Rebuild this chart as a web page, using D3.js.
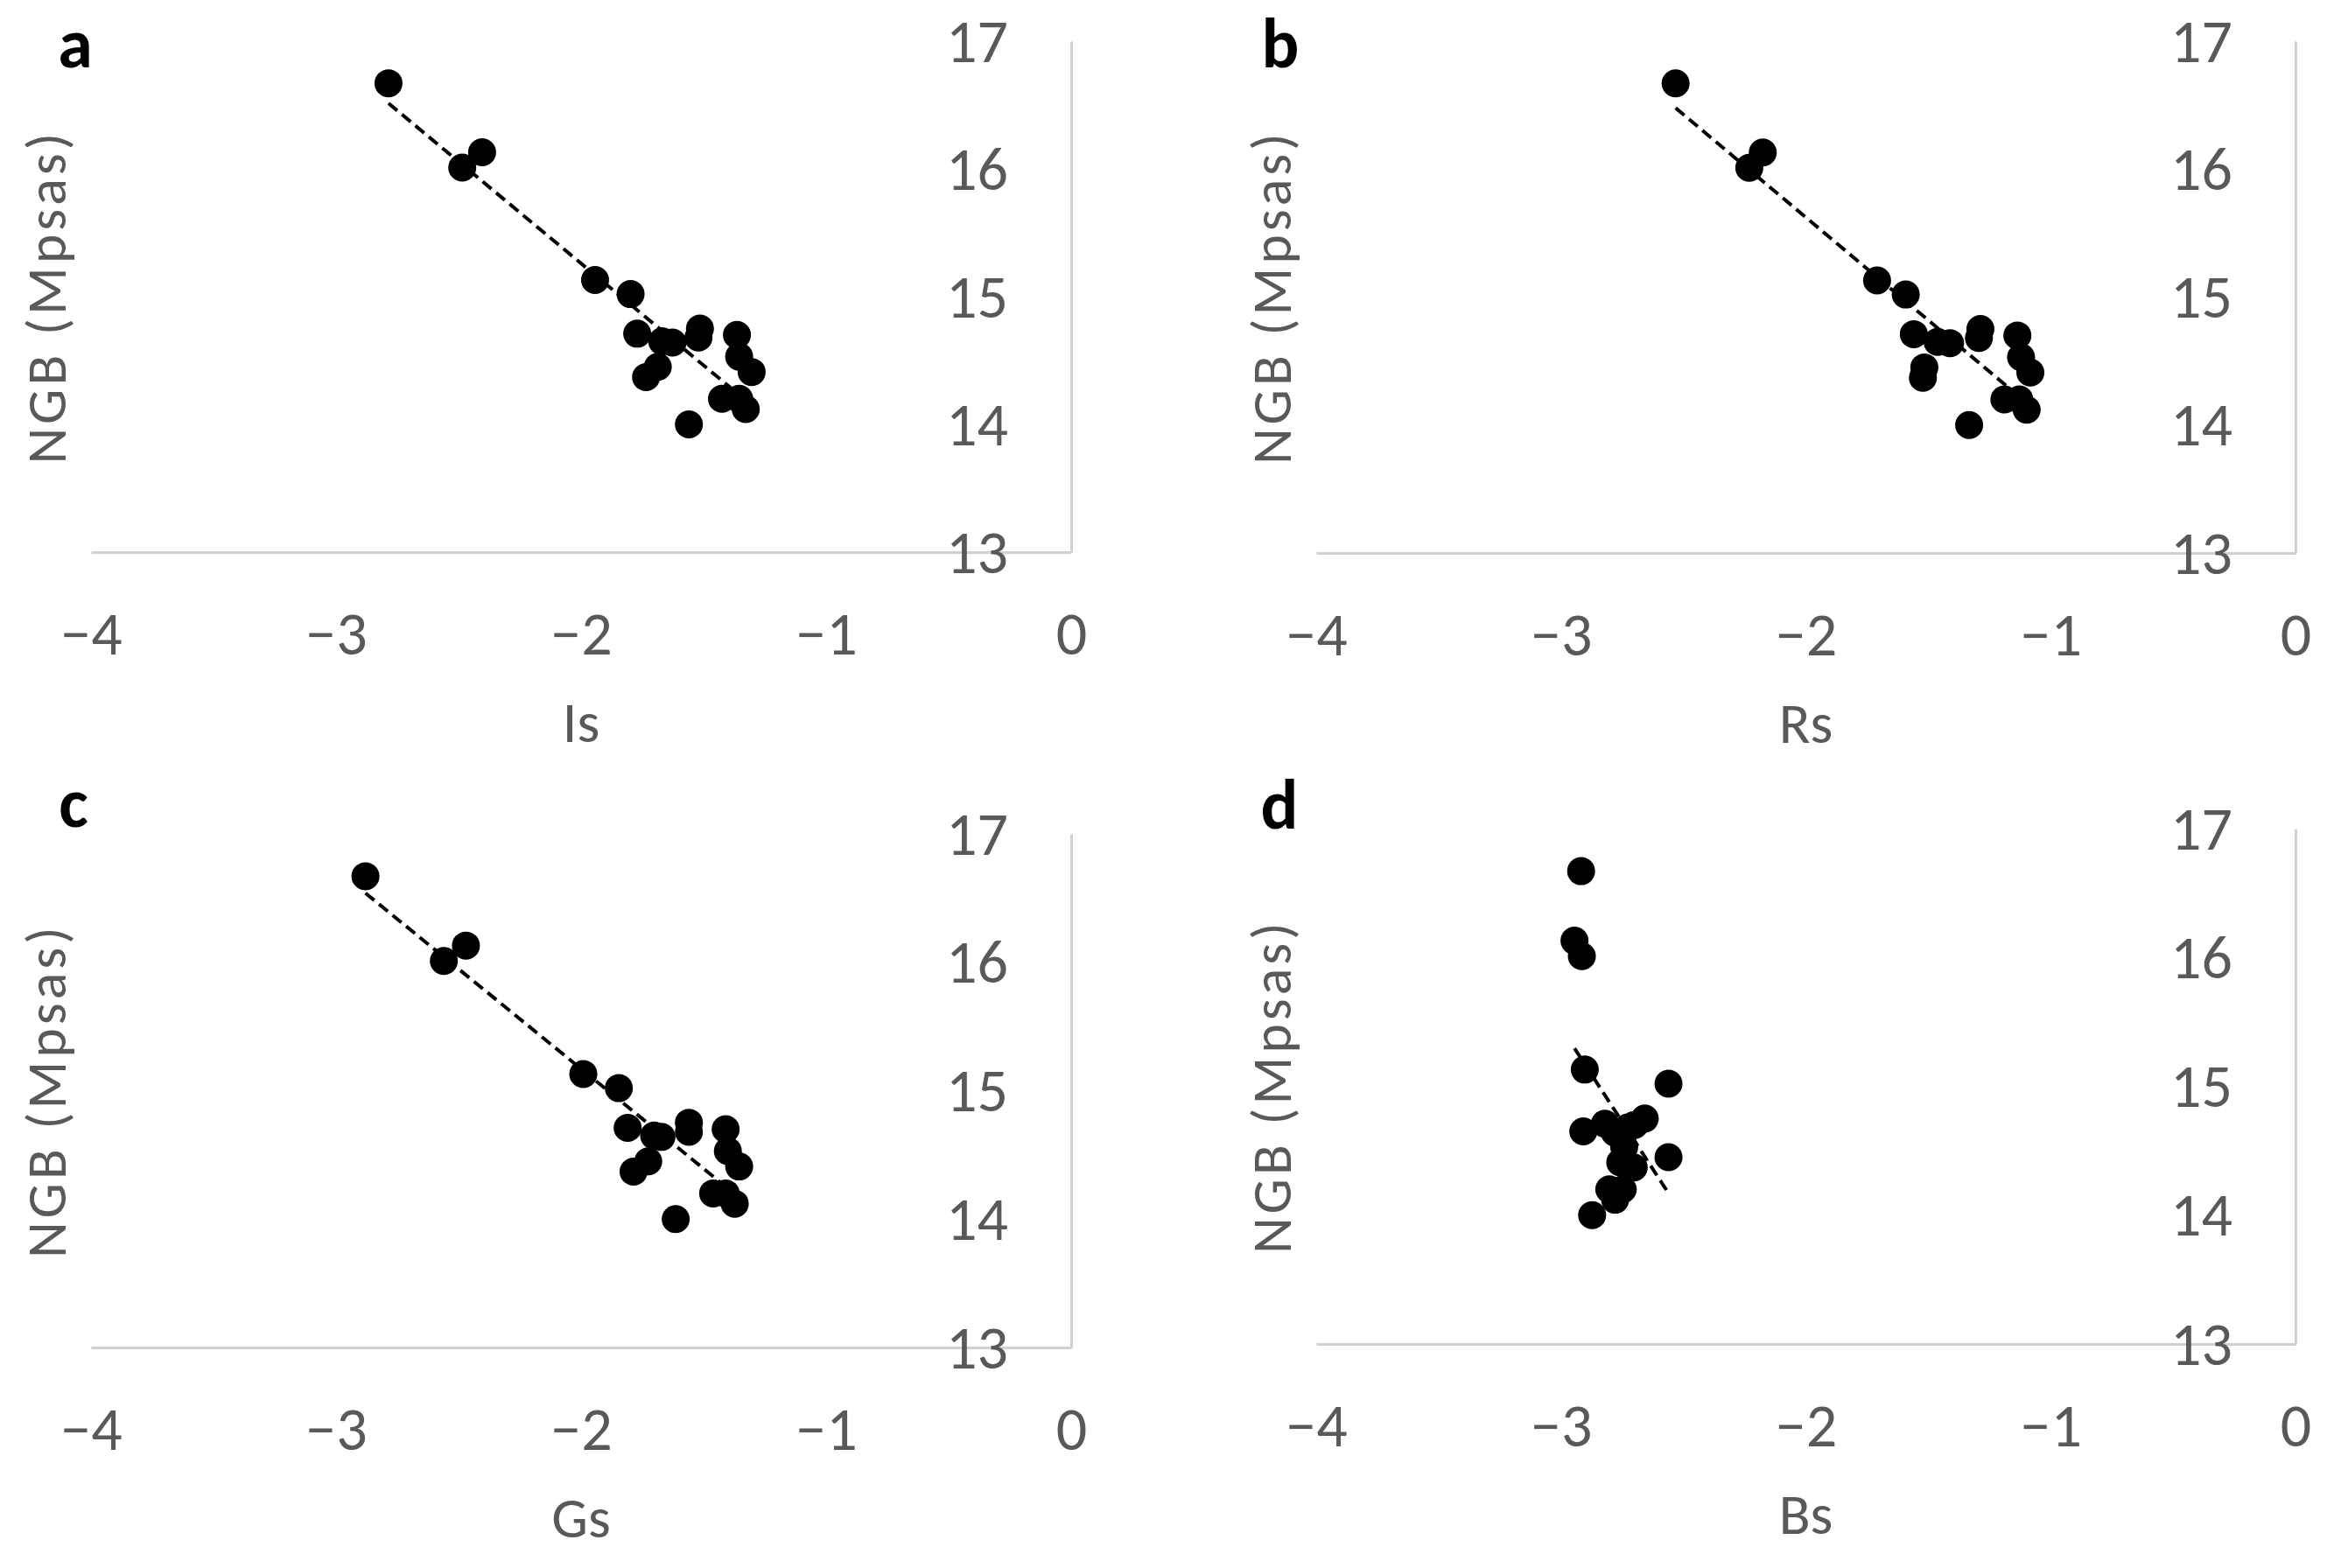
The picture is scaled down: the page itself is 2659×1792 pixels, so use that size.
<!DOCTYPE html>
<html>

<head>
  <meta charset="utf-8">
  <title>NGB scatter</title>
  <script src="https://cdn.jsdelivr.net/npm/d3@7"></script>
  <style>
    body { margin: 0; background: #fff; }
    text { font-family: Carlito, 'Liberation Sans', Arial, sans-serif; }
  </style>
</head>

<body>
  <svg width="2659" height="1792" id="mainsvg"></svg>
  <script>
    // night sky brightness, same sites in every panel
    const ngb = [16.67, 16.13, 16.01, 15.13, 15.02, 14.71, 14.65, 14.64, 14.75, 14.68,
      14.45, 14.37, 14.70, 14.53, 14.41, 14.20, 14.20, 14.12, 14.00];
    const isVals = [-2.786, -2.404, -2.485, -1.943, -1.798, -1.771, -1.669, -1.627, -1.515, -1.521,
      -1.687, -1.735, -1.364, -1.355, -1.304, -1.425, -1.355, -1.328, -1.560];
    const rsVals = [-2.532, -2.176, -2.231, -1.709, -1.592, -1.559, -1.462, -1.411, -1.287, -1.293,
      -1.516, -1.522, -1.136, -1.121, -1.083, -1.189, -1.128, -1.098, -1.333];
    const gsVals = [-2.880, -2.470, -2.560, -1.991, -1.846, -1.810, -1.702, -1.672, -1.560, -1.560,
      -1.726, -1.786, -1.410, -1.401, -1.355, -1.461, -1.410, -1.373, -1.614];
    const bsVals = [-2.918, -2.945, -2.915, -2.903, -2.561, -2.821, -2.909, -2.780, -2.658, -2.727,
      -2.561, -2.703, -2.700, -2.742, -2.758, -2.803, -2.748, -2.779, -2.873];

    const xTicks = [-4, -3, -2, -1, 0];
    const yTicks = [13, 14, 15, 16, 17];
    const yTitle = 'NGB (Mpsas)';

    const svg = d3.select('#mainsvg');

    // each panel: its frame on the page and where its letter sits
    const panels = [
      { letter: 'a', title: 'Is', xs: isVals, left: 104, right: 1224, top: 47, bottom: 631, lx: 86, ly: 77 },
      { letter: 'b', title: 'Rs', xs: rsVals, left: 1504, right: 2623, top: 47, bottom: 632, lx: 1463, ly: 77 },
      { letter: 'c', title: 'Gs', xs: gsVals, left: 104, right: 1224, top: 953, bottom: 1540, lx: 84, ly: 945 },
      { letter: 'd', title: 'Bs', xs: bsVals, left: 1504, right: 2623, top: 947, bottom: 1536, lx: 1462, ly: 947 }
    ];

    const axisColor = '#d0d0d0';
    const labelColor = '#595959';
    const fmt = d3.format('d');

    const render = function (p) {
      const data = p.xs.map((x, i) => ({ x: x, y: ngb[i] }));
      const xScale = d3.scaleLinear().domain([-4, 0]).range([p.left, p.right]);
      const yScale = d3.scaleLinear().domain([13, 17]).range([p.bottom, p.top]);
      const g = svg.append('g');

      const xAxis = d3.axisBottom(xScale).tickValues(xTicks).tickFormat(fmt).tickSize(0).tickSizeOuter(0);
      const xg = g.append('g').attr('transform', `translate(0, ${p.bottom})`).call(xAxis);
      xg.select('.domain').attr('stroke', axisColor).attr('stroke-width', 3);
      xg.selectAll('text').attr('y', 117).attr('dy', null)
        .attr('font-size', 70).attr('fill', labelColor);

      const yAxis = d3.axisLeft(yScale).tickValues(yTicks).tickFormat(fmt).tickSize(0).tickSizeOuter(0).tickPadding(72);
      const yg = g.append('g').attr('transform', `translate(${p.right}, 0)`).call(yAxis);
      yg.select('.domain').attr('stroke', axisColor).attr('stroke-width', 3);
      yg.selectAll('text').attr('dy', '0.33em')
        .attr('font-size', 70).attr('fill', labelColor);
      g.selectAll('.tick line').remove();
      g.selectAll('g').attr('font-family', null);

      // linear trendline over the data range
      const mx = d3.mean(data, d => d.x);
      const my = d3.mean(data, d => d.y);
      const slope = d3.sum(data, d => (d.x - mx) * (d.y - my)) / d3.sum(data, d => (d.x - mx) ** 2);
      const ext = d3.extent(data, d => d.x);
      const fit = ext.map(x => ({ x: x, y: my + slope * (x - mx) }));
      const line = d3.line().x(d => xScale(d.x)).y(d => yScale(d.y));

      g.selectAll('circle').data(data).enter().append('circle')
        .attr('cx', d => xScale(d.x))
        .attr('cy', d => yScale(d.y))
        .attr('r', 16)
        .attr('fill', '#000');

      g.append('path').datum(fit)
        .attr('d', line)
        .attr('fill', 'none')
        .attr('stroke', '#000')
        .attr('stroke-width', 4)
        .attr('stroke-dasharray', '13,7');

      // axis titles
      const cx = (p.left + p.right) / 2;
      const cy = (p.top + p.bottom) / 2;
      g.append('text')
        .attr('x', cx).attr('y', p.bottom + 217)
        .attr('text-anchor', 'middle')
        .attr('font-size', 66).attr('fill', labelColor)
        .text(p.title);
      g.append('text')
        .attr('transform', `translate(${p.left - 29}, ${cy}) rotate(-90)`)
        .attr('text-anchor', 'middle')
        .attr('font-size', 64).attr('letter-spacing', 4).attr('fill', labelColor)
        .text(yTitle);

      g.append('text')
        .attr('x', p.lx).attr('y', p.ly)
        .attr('text-anchor', 'middle')
        .attr('font-size', 80).attr('font-weight', 'bold').attr('fill', '#000')
        .text(p.letter);
    };

    panels.forEach(render);
  </script>
</body>

</html>
